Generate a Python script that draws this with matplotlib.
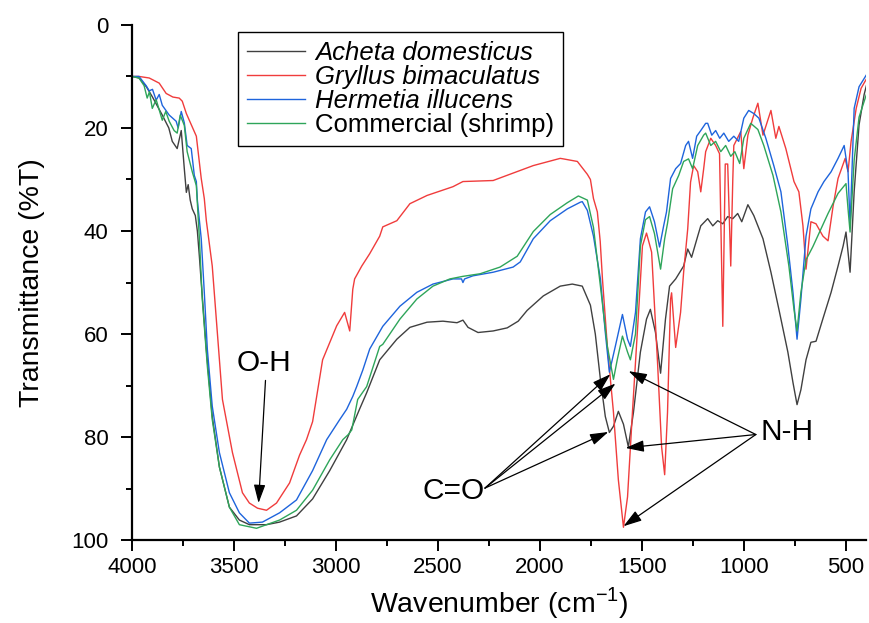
import numpy as np
import matplotlib.pyplot as plt

plt.rcParams['font.family'] = ['Liberation Sans', 'DejaVu Sans']

# ── Spectra (wavenumber, %T) ──────────────────────────────
wn_acheta = [4000, 3966, 3930, 3900, 3852, 3820, 3803, 3779, 3759, 3744, 3734, 3725, 3715,
             3705, 3690, 3680, 3670, 3661, 3636, 3607, 3572, 3523, 3474, 3425, 3341, 3277,
             3194, 3115, 3031, 2948, 2884, 2850, 2786, 2702, 2638, 2554, 2476, 2407, 2378,
             2353, 2304, 2230, 2161, 2107, 2063, 1984, 1901, 1842, 1793, 1753, 1729, 1704,
             1680, 1660, 1640, 1616, 1591, 1567, 1542, 1508, 1478, 1459, 1434, 1409, 1385,
             1365, 1335, 1296, 1276, 1257, 1227, 1212, 1178, 1153, 1129, 1104, 1080, 1055,
             1031, 1011, 981, 952, 907, 868, 829, 785, 760, 740, 721, 696, 672, 647, 613,
             573, 539, 514, 500, 480, 460, 436, 411, 400]
t_acheta = [10, 10.3, 12, 14, 17.5, 20, 22.6, 24, 20.5, 27.9, 32.5, 31, 34,
            35.7, 37, 40, 45, 50, 63, 76, 85.8, 93.6, 96.1, 97, 97, 96.5,
            95.3, 92, 86.5, 80.5, 74.5, 71.4, 65, 61, 58.7, 57.7, 57.5, 57.8, 57.3,
            58.7, 59.7, 59.4, 58.8, 57.5, 55.4, 52.6, 50.7, 50.3, 50.7, 54.4, 60, 68.8,
            76, 79.1, 77.9, 75, 77.5, 81.9, 75.2, 63.5, 57.1, 55.2, 59.7, 67.6, 57.1,
            50.7, 49.3, 46.8, 43.5, 45.1, 41, 39, 37.6, 39, 38, 38.6, 37.2, 37.6,
            36.6, 38.2, 34.9, 37, 41.5, 48, 55.2, 63.5, 69.4, 73.7, 70.8, 65, 61.6, 61.4, 57,
            51.9, 46.8, 42.9, 40.2, 48, 32.4, 19.4, 13.5, 11.8]

wn_gryllus = [4000, 3966, 3916, 3867, 3833, 3800, 3769, 3754, 3734, 3685, 3661, 3646, 3636,
              3607, 3557, 3508, 3459, 3425, 3385, 3341, 3292, 3228, 3179, 3145, 3115, 3066,
              2997, 2958, 2933, 2918, 2909, 2874, 2835, 2786, 2771, 2702, 2638, 2554, 2427,
              2378, 2230, 2033, 1901, 1886, 1817, 1768, 1753, 1738, 1719, 1705, 1694, 1670,
              1640, 1616, 1591, 1571, 1547, 1517, 1498, 1478, 1453, 1424, 1404, 1389, 1375,
              1360, 1355, 1335, 1311, 1296, 1276, 1262, 1247, 1227, 1212, 1198, 1188, 1163,
              1139, 1120, 1104, 1092, 1080, 1065, 1055, 1050, 1016, 1001, 981, 957, 932, 907,
              868, 844, 829, 795, 755, 731, 711, 696, 672, 647, 613, 588, 563, 539, 504, 490,
              475, 450, 426, 400]
t_gryllus = [10, 10, 10.3, 11.3, 13.3, 14, 14.2, 14.8, 17.2, 21.6, 29.8, 33.7, 38,
             46.8, 72.7, 83, 90.8, 92.8, 93.8, 94.2, 92.8, 88.9, 83.5, 80.5, 77, 65,
             58.4, 55.8, 59.4, 51.3, 49.3, 46.8, 44.4, 41, 39.2, 38, 34.7, 33.1, 31.4,
             30.4, 30.2, 27.3, 25.9, 26, 26.5, 29, 30, 33.7, 36.3, 42, 49.3, 62.4,
             75.2, 88.3, 97.5, 91.6, 75.2, 55.8, 42.9, 40.4, 44.1, 65.5, 81.9, 87.3, 75.2,
             53.2, 52, 62.6, 55.8, 48, 39.6, 30.5, 27.3, 28.5, 32.4, 28, 24.6, 22,
             23.4, 25, 58.5, 27, 27, 46.8, 30, 23.4, 20.7, 27.9, 21.4, 18.1, 15.2, 21.4,
             16.6, 22, 19.7, 24, 30.4, 32.4, 39, 47.4, 38.2, 38.6, 41, 41.9, 35.1, 29.8, 25.9, 28.5,
             22.6, 16.2, 12.3, 10.5]

wn_hermetia = [4000, 3966, 3931, 3916, 3900, 3882, 3867, 3852, 3818, 3784, 3774, 3759, 3744,
               3730, 3710, 3695, 3685, 3680, 3661, 3646, 3631, 3607, 3572, 3523, 3474, 3425,
               3361, 3277, 3194, 3115, 3046, 2982, 2948, 2918, 2899, 2869, 2835, 2771, 2687,
               2604, 2525, 2427, 2385, 2378, 2370, 2329, 2230, 2132, 2097, 2033, 1950, 1866,
               1802, 1793, 1768, 1738, 1704, 1680, 1660, 1631, 1596, 1571, 1557, 1532, 1508,
               1483, 1463, 1439, 1414, 1394, 1380, 1360, 1335, 1311, 1286, 1272, 1252, 1232,
               1212, 1188, 1178, 1158, 1139, 1119, 1099, 1075, 1050, 1026, 1001, 977, 952, 927,
               893, 854, 819, 785, 760, 740, 721, 696, 672, 637, 608, 573, 539, 509, 490, 480,
               460, 436, 400]
t_hermetia = [10, 10, 11.8, 12.8, 12.5, 14.6, 13.5, 15.6, 17.5, 18.7, 20, 16.8, 19,
              23.4, 24, 29.2, 30.4, 34, 41.5, 51.9, 63, 74, 83, 90.8, 94.7, 96.7,
              96.5, 94.7, 92.2, 86.5, 80.5, 76.6, 74.6, 72.1, 70.2, 67, 62.9, 58.5, 54.6,
              51.9, 50.3, 49.3, 49.3, 50, 49.3, 48.7, 48, 47, 46, 41.5, 38, 35.7,
              34.4, 34.3, 36, 41, 49.3, 59.7, 67.4, 62.4, 56.2, 61, 62.4, 55.8, 41.5,
              36.3, 35.3, 38.2, 43.1, 39, 36.3, 29.8, 27.9, 26.9, 23.4, 22.6, 25.9, 21.6,
              20.5, 19.1, 19.1, 21.4, 20.5, 22, 21, 22.6, 21.6, 22.6, 18.1, 16.6, 17.2, 18.1,
              22, 27.3, 32.4, 42.9, 51.9, 61, 53.2, 41, 35.7, 32.4, 30.4, 28.5, 25.9, 23.4, 28.5, 39,
              16.2, 12, 9.7]

wn_shrimp = [4000, 3966, 3941, 3926, 3915, 3901, 3882, 3852, 3835, 3818, 3794, 3779, 3764,
             3744, 3730, 3705, 3685, 3670, 3656, 3631, 3607, 3572, 3523, 3474, 3390, 3341,
             3277, 3194, 3115, 3031, 2967, 2940, 2923, 2894, 2850, 2786, 2771, 2687, 2604,
             2525, 2442, 2378, 2294, 2196, 2112, 2033, 1950, 1866, 1812, 1768, 1738, 1704,
             1670, 1640, 1621, 1596, 1571, 1557, 1532, 1508, 1483, 1463, 1439, 1409, 1389,
             1375, 1350, 1320, 1296, 1272, 1252, 1227, 1198, 1188, 1163, 1139, 1114, 1090,
             1065, 1045, 1021, 1001, 967, 932, 903, 858, 819, 780, 755, 740, 721, 696, 662,
             632, 588, 539, 500, 490, 480, 460, 436, 400]
t_shrimp = [10, 10.3, 11.8, 14.2, 13, 16.2, 14.5, 18.5, 16.8, 18.7, 20.5, 21, 17.5,
            19.5, 24.6, 28.5, 31.2, 41.5, 53.2, 66.3, 76.6, 85.8, 93.6, 97, 97.7, 97,
            96.1, 94.2, 90.3, 84.4, 80.5, 79.5, 78.6, 72.7, 70.2, 62.4, 62, 57.1, 53.2,
            50.7, 49.3, 48.8, 48.3, 47, 44.9, 40.1, 36.8, 34.5, 33.2, 34, 39.3, 50.7,
            62.4, 68.8, 64.9, 60.4, 63.5, 65, 60, 42.9, 37.8, 37.2, 40.5, 47.4, 41.5,
            38.5, 31.8, 29.2, 26.5, 26, 27.9, 23.4, 21.4, 21, 23.4, 22.6, 24.6, 23.4,
            25.5, 24.6, 26.9, 22, 19.1, 20.3, 23.4, 29.2, 36.3, 46.8, 55.2, 59.4, 51.9, 45.6, 43,
            40.4, 36.6, 32.7, 30.8, 35.7, 40.2, 26.3, 17.9, 13.5]

labels = ['Acheta domesticus', 'Gryllus bimaculatus', 'Hermetia illucens', 'Commercial (shrimp)']
colors = ['#404040', '#f03c3c', '#1e64dc', '#2ea55a']

# ── Plot ──────────────────────────────────────────────────
fig = plt.figure(figsize=(8.69, 6.23), dpi=100)
ax = fig.add_axes([0.152, 0.133, 0.845, 0.827])

series = [(wn_acheta, t_acheta), (wn_gryllus, t_gryllus),
          (wn_hermetia, t_hermetia), (wn_shrimp, t_shrimp)]
for (wn, t), color, label in zip(series, colors, labels):
    ax.plot(wn, t, color=color, linewidth=1.0, label=label)

ax.set_xlim(4000, 400)
ax.set_ylim(100, 0)
ax.set_xticks([4000, 3500, 3000, 2500, 2000, 1500, 1000, 500])
ax.set_xticks(np.arange(3750, 400, -500), minor=True)
ax.set_yticks([0, 20, 40, 60, 80, 100])
ax.set_yticks([10, 30, 50, 70, 90], minor=True)

for side in ['top', 'right']:
    ax.spines[side].set_visible(False)
for side in ['left', 'bottom']:
    ax.spines[side].set_linewidth(1.6)
ax.tick_params(which='major', direction='out', length=8, width=1.4, labelsize=16)
ax.tick_params(which='minor', direction='out', length=4.5, width=1.4)
ax.tick_params(axis='x', which='major', pad=4)
ax.tick_params(axis='y', which='major', pad=9)

ax.set_xlabel('Wavenumber (cm$^{\\mathregular{-1}}$)', fontsize=20.5, labelpad=5)
ax.set_ylabel('Transmittance (%T)', fontsize=20.5, labelpad=19)

# ── Annotations ───────────────────────────────────────────
arrow = dict(arrowstyle='-|>,head_length=0.7,head_width=0.22', color='black',
             lw=0.9, shrinkA=0, shrinkB=0, mutation_scale=16)

ax.text(3351, 65.6, 'O-H', fontsize=21.5, ha='center', va='center')
ax.annotate('', xy=(3380, 92.8), xytext=(3346, 69.0), arrowprops=arrow)

ax.text(2422, 90.4, 'C=O', fontsize=21.5, ha='center', va='center')
for tip in [(1655, 67.8), (1630, 69.6), (1665, 79)]:
    ax.annotate('', xy=tip, xytext=(2270, 89.9), arrowprops=arrow)

ax.text(790, 79, 'N-H', fontsize=21.5, ha='center', va='center')
for tip in [(1566, 67.2), (1581, 82.1), (1591, 97.3)]:
    ax.annotate('', xy=tip, xytext=(942, 79.5), arrowprops=arrow)

# ── Legend ────────────────────────────────────────────────
leg = ax.legend(loc='upper left', bbox_to_anchor=(0.144, 0.987), borderaxespad=0,
                fontsize=18.5, frameon=True, fancybox=False, framealpha=1,
                edgecolor='black', handlelength=2.25, handletextpad=0.4,
                labelspacing=0.0, borderpad=0.35)
leg.get_frame().set_linewidth(1.0)
for txt in leg.get_texts()[:3]:
    txt.set_fontstyle('italic')

fig.savefig('out.png', dpi=100)
